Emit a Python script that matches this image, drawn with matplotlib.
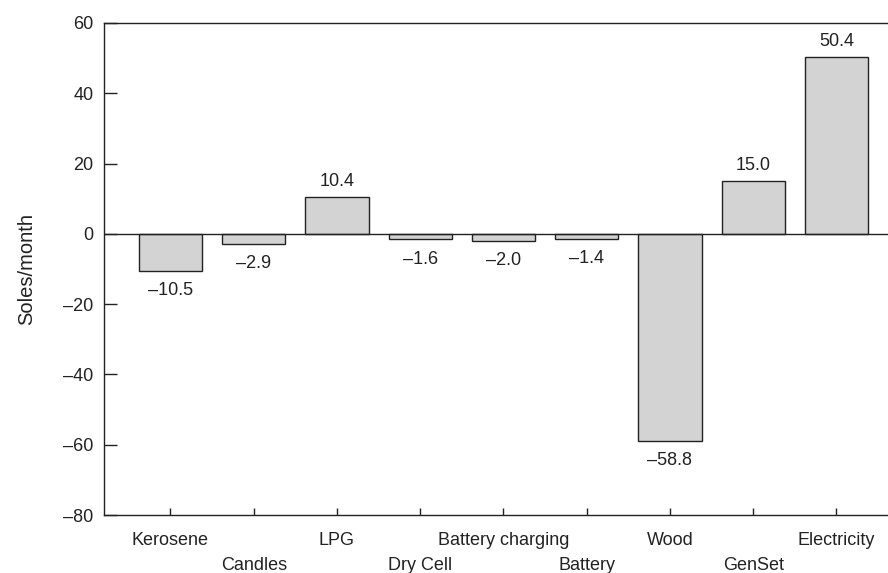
import matplotlib
matplotlib.use("Agg")
import matplotlib.pyplot as plt

categories = ["Kerosene", "Candles", "LPG", "Dry Cell", "Battery charging",
              "Battery", "Wood", "GenSet", "Electricity"]
values = [-10.5, -2.9, 10.4, -1.6, -2.0, -1.4, -58.8, 15.0, 50.4]
y_ticks = [-80, -60, -40, -20, 0, 20, 40, 60]

plt.rcParams["font.family"] = ["Liberation Sans", "DejaVu Sans"]
INK = "#222222"
FS = 13


def fmt(v):
    s = f"{abs(v):.1f}"
    return ("\u2013" + s) if v < 0 else s


fig = plt.figure(figsize=(8.88, 5.73), dpi=100)
ax = fig.add_axes([0.117, 0.101, 0.883, 0.859])

x = list(range(len(categories)))
bars = ax.bar(x, values, width=0.76, color="#d3d3d3", edgecolor=INK,
              linewidth=1.0, zorder=2)
ax.axhline(0, color=INK, linewidth=1.0, zorder=3)

for b, v in zip(bars, values):
    cx = b.get_x() + b.get_width() / 2
    if v >= 0:
        ax.annotate(fmt(v), (cx, v), xytext=(0, 5), textcoords="offset points",
                    ha="center", va="bottom", fontsize=FS, color=INK)
    else:
        ax.annotate(fmt(v), (cx, v), xytext=(0, -8), textcoords="offset points",
                    ha="center", va="top", fontsize=FS, color=INK)

ax.set_xlim(-0.8, 8.62)
ax.set_ylim(-80, 60)
ax.set_yticks(y_ticks)
ax.set_yticklabels([fmt(t).replace(".0", "") if t else "0" for t in y_ticks],
                   fontsize=FS, color=INK)
ax.tick_params(axis="y", direction="in", length=9, width=1, color=INK, pad=7.5)

ax.set_xticks(x)
ax.set_xticklabels([])
ax.tick_params(axis="x", direction="in", length=5, width=1, color=INK)
for i, name in enumerate(categories):
    off = -18.5 if i % 2 == 0 else -36.5
    ax.annotate(name, (i, -80), xytext=(0, off), textcoords="offset points",
                ha="center", va="center", fontsize=FS, color=INK,
                annotation_clip=False)

ax.spines["right"].set_visible(False)
for s in ("left", "top", "bottom"):
    ax.spines[s].set_color(INK)
    ax.spines[s].set_linewidth(1.0)

ax.set_ylabel("Soles/month", fontsize=14.5, color=INK)
ax.yaxis.set_label_coords(-0.087, 0.5)

fig.savefig("out.png", dpi=100)
